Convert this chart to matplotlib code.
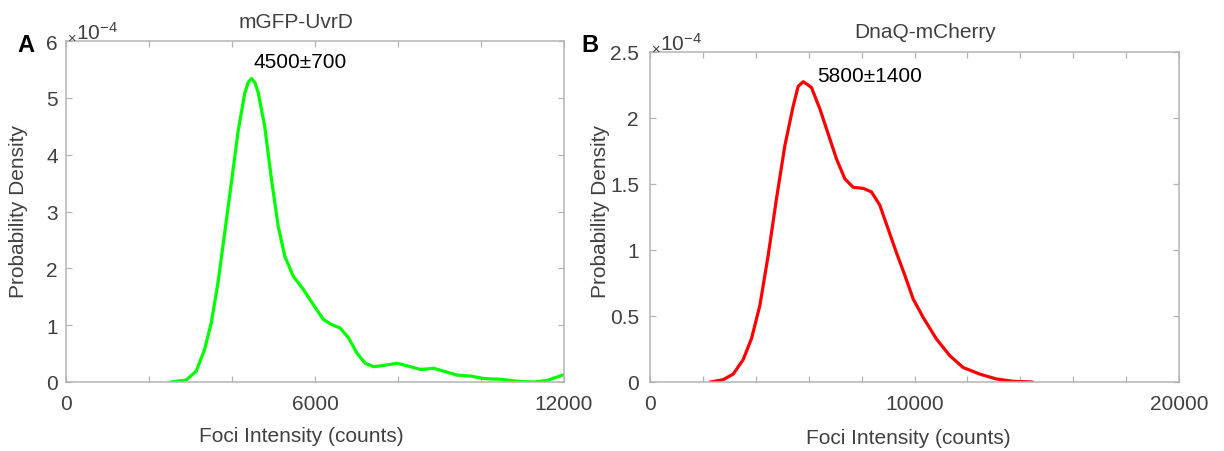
import matplotlib
matplotlib.use("Agg")
import matplotlib.pyplot as plt
from matplotlib.ticker import FixedLocator, FixedFormatter

plt.rcParams['font.family'] = ['Liberation Sans', 'DejaVu Sans']
plt.rcParams['mathtext.fontset'] = 'custom'
plt.rcParams['mathtext.rm'] = 'Liberation Sans'

# ---------------- data ----------------
titles = ["mGFP-UvrD", "DnaQ-mCherry"]
panel_letters = ["A", "B"]
annotations = ["4500\u00b1700", "5800\u00b11400"]
xlabel = "Foci Intensity (counts)"
ylabel = "Probability Density"

# Panel A (values of y in units of 1e-4)
a_x = [2532, 2895, 3137, 3339, 3500, 3661, 3823, 3984, 4145, 4306, 4390, 4468,
       4550, 4629, 4790, 4952, 5113, 5274, 5476, 5718, 5960, 6202, 6403, 6605,
       6806, 7008, 7210, 7411, 7653, 7976, 8298, 8540, 8863, 9105, 9427, 9750,
       10073, 10476, 10879, 11282, 11605, 12000]
a_y = [0, 0.035, 0.19, 0.57, 1.04, 1.74, 2.62, 3.5, 4.4, 5.08, 5.27, 5.34,
       5.27, 5.1, 4.49, 3.56, 2.74, 2.21, 1.86, 1.63, 1.36, 1.10, 1.01, 0.95,
       0.78, 0.51, 0.33, 0.27, 0.29, 0.33, 0.27, 0.22, 0.24, 0.19, 0.12, 0.105,
       0.06, 0.047, 0.012, 0.0, 0.03, 0.13]

# Panel B
b_x = [2290, 2768, 3146, 3524, 3839, 4154, 4469, 4783, 5098, 5413, 5602, 5791,
       5980, 6106, 6421, 6736, 7050, 7365, 7680, 8058, 8373, 8688, 9002, 9317,
       9632, 9947, 10325, 10829, 11332, 11836, 12466, 13096, 13725, 14456]
b_y = [0, 0.018, 0.06, 0.17, 0.33, 0.58, 0.96, 1.39, 1.79, 2.09, 2.24, 2.275,
       2.25, 2.23, 2.07, 1.88, 1.69, 1.54, 1.475, 1.467, 1.44, 1.34, 1.16, 0.98,
       0.81, 0.63, 0.49, 0.326, 0.2, 0.11, 0.06, 0.023, 0.005, 0]

a_xticks = [0, 2000, 4000, 6000, 8000, 10000, 12000]
a_xticklabels = ["0", "", "", "6000", "", "", "12000"]
a_yticks = [0, 1, 2, 3, 4, 5, 6]
a_yticklabels = ["0", "1", "2", "3", "4", "5", "6"]

b_xticks = [0, 2000, 4000, 6000, 8000, 10000, 12000, 14000, 16000, 18000, 20000]
b_xticklabels = ["0", "", "", "", "", "10000", "", "", "", "", "20000"]
b_yticks = [0, 0.5, 1, 1.5, 2, 2.5]
b_yticklabels = ["0", "0.5", "1", "1.5", "2", "2.5"]

scale = 1e-4
# --------------------------------------

W, H = 1224, 452
fig = plt.figure(figsize=(W / 100, H / 100), dpi=100)
axA = fig.add_axes([66 / W, (H - 383) / H, 498 / W, 341 / H])
axB = fig.add_axes([650 / W, (H - 383) / H, 529 / W, 330 / H])

grey_txt = '#404040'
spine_c = '#b4b4b4'

def style(ax, xticks, xtl, yticks, ytl, xlim, ylim, ypad):
    ax.set_xlim(*xlim)
    ax.set_ylim(ylim[0] * scale, ylim[1] * scale)
    ax.xaxis.set_major_locator(FixedLocator(xticks))
    ax.xaxis.set_major_formatter(FixedFormatter(xtl))
    ax.yaxis.set_major_locator(FixedLocator([v * scale for v in yticks]))
    ax.yaxis.set_major_formatter(FixedFormatter(ytl))
    for s in ax.spines.values():
        s.set_color(spine_c)
        s.set_linewidth(1.1)
    ax.tick_params(axis='both', direction='in', length=4, width=0.9,
                   color=spine_c, labelcolor=grey_txt, labelsize=15,
                   top=True, right=True)
    ax.tick_params(axis='x', pad=8.5)
    ax.tick_params(axis='y', pad=ypad)

style(axA, a_xticks, a_xticklabels, a_yticks, a_yticklabels, (0, 12000), (0, 6), 6)
style(axB, b_xticks, b_xticklabels, b_yticks, b_yticklabels, (0, 20000), (0, 2.5), 8)

axA.plot(a_x, [v * scale for v in a_y], color='#00ff00', lw=2.3,
         solid_capstyle='round', solid_joinstyle='round')
axB.plot(b_x, [v * scale for v in b_y], color='#ff0000', lw=2.3,
         solid_capstyle='round', solid_joinstyle='round')

# titles (pixel centres)
fig.text(296 / W, 1 - 23 / H, titles[0], ha='center', va='center',
         fontsize=15, color=grey_txt)
fig.text(925 / W, 1 - 33 / H, titles[1], ha='center', va='center',
         fontsize=15, color=grey_txt)

for ax, h in [(axA, 341), (axB, 330)]:
    ax.set_xlabel(xlabel, fontsize=15, color=grey_txt)
    ax.set_ylabel(ylabel, fontsize=15, color=grey_txt)
    ax.text(0.002, 1 + 4 / h, r'$\mathregular{{}_{\times}10^{-4}}$',
            transform=ax.transAxes, ha='left', va='baseline',
            fontsize=15, color=grey_txt)
    ax.xaxis.label.set_va('center')
    ax.yaxis.label.set_va('center')

axA.xaxis.set_label_coords((301 - 66) / 498, (383 - 437) / 341)
axB.xaxis.set_label_coords((908 - 650) / 529, (383 - 439) / 330)
axA.yaxis.set_label_coords((19 - 66) / 498, (383 - 212) / 341)
axB.yaxis.set_label_coords((601 - 650) / 529, (383 - 212) / 330)

# peak annotations
axA.text(5640, 5.47 * scale, annotations[0], ha='center', va='bottom',
         fontsize=15, color='black')
axB.text(8318, 2.25 * scale, annotations[1], ha='center', va='bottom',
         fontsize=15, color='black')

# panel letters
fig.text(26 / W, 1 - 46 / H, panel_letters[0], fontsize=17, fontweight='bold',
         ha='center', va='center')
fig.text(590 / W, 1 - 45 / H, panel_letters[1], fontsize=17, fontweight='bold',
         ha='center', va='center')

fig.savefig('out.png', dpi=100)
